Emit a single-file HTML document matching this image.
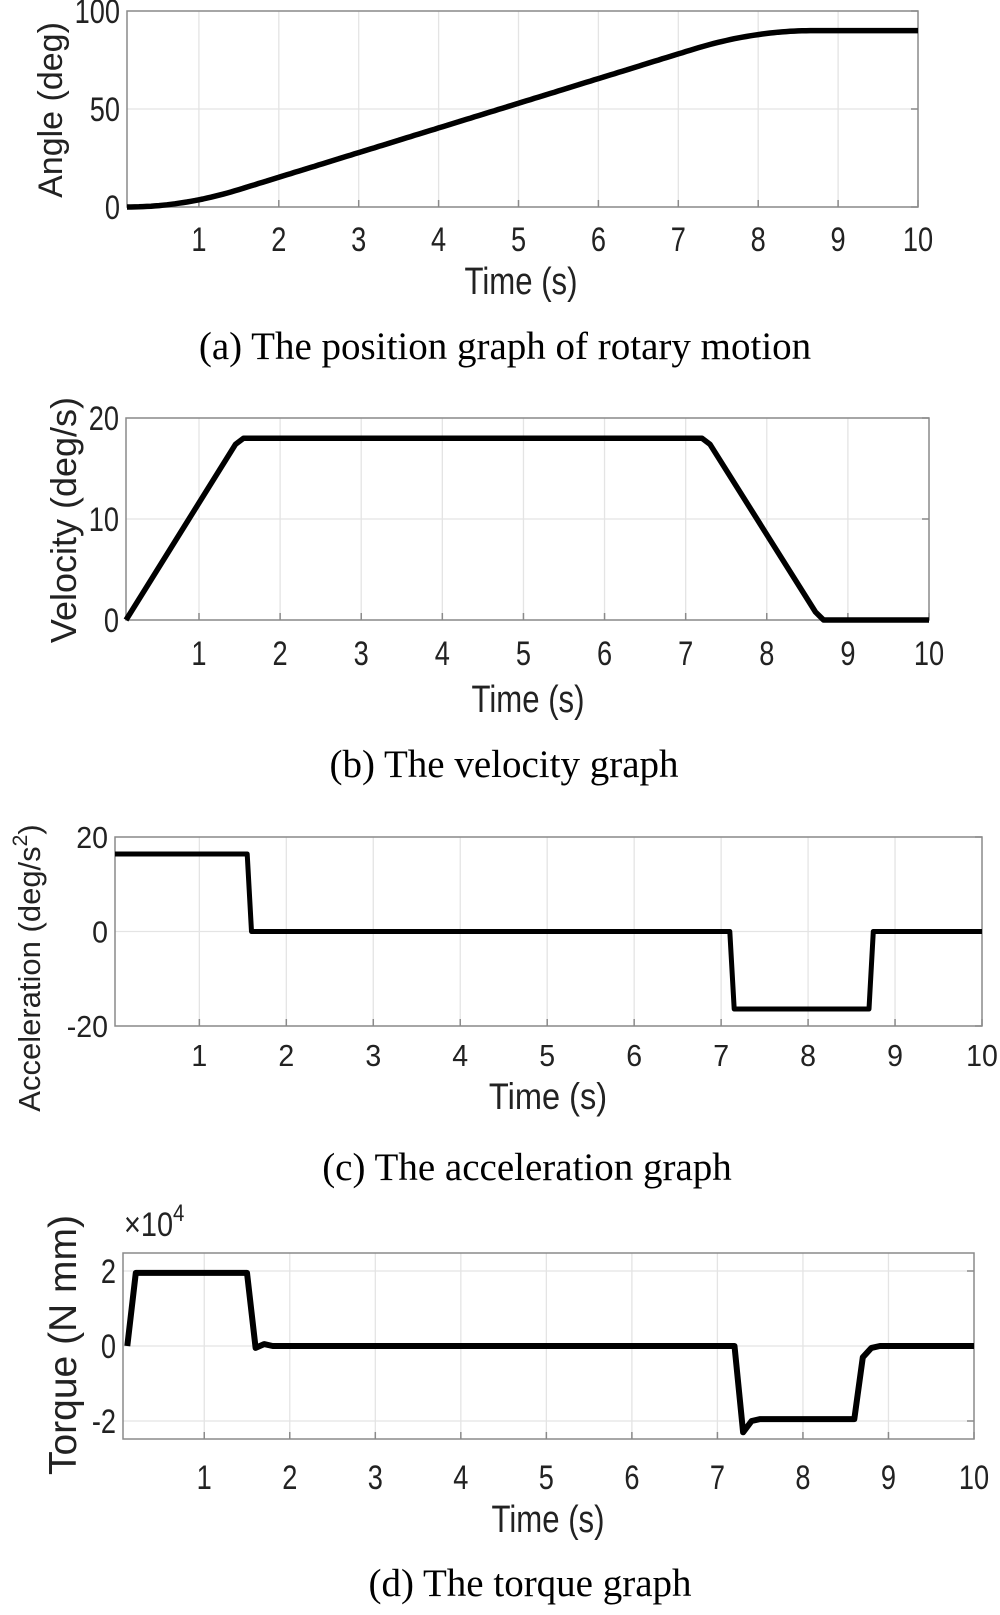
<!DOCTYPE html>
<html><head><meta charset="utf-8"><style>
html,body{margin:0;padding:0;background:#fff;}
svg{display:block;}
</style></head><body>
<svg id="s" xmlns="http://www.w3.org/2000/svg" width="1000" height="1615" viewBox="0 0 1000 1615">
<rect width="1000" height="1615" fill="#fff"/>
<g font-family="Liberation Serif, serif" font-size="39" fill="#000" text-anchor="middle">
<text x="505" y="359">(a) The position graph of rotary motion</text>
<text x="504" y="777">(b) The velocity graph</text>
<text x="527" y="1180">(c) The acceleration graph</text>
<text x="530" y="1596">(d) The torque graph</text>
</g>
</svg>
<script>
var s=document.getElementById('s');var NS='http://www.w3.org/2000/svg';
function el(n,a,t){var e=document.createElementNS(NS,n);for(var k in a)e.setAttribute(k,a[k]);if(t!==undefined)e.textContent=t;s.appendChild(e);return e;}
function plot(o){
 var X=function(t){return o.l+(t-o.xmin)/(10-o.xmin)*(o.r-o.l);};
 var Y=function(v){return o.b-(v-o.ymin)/(o.ymax-o.ymin)*(o.b-o.t);};
 for(var i=1;i<10;i++){el('line',{x1:X(i),x2:X(i),y1:o.t,y2:o.b,stroke:'#e4e4e4','stroke-width':1.3});}
 o.yt.forEach(function(v){el('line',{x1:o.l,x2:o.r,y1:Y(v),y2:Y(v),stroke:'#e4e4e4','stroke-width':1.3});});
 el('rect',{x:o.l,y:o.t,width:o.r-o.l,height:o.b-o.t,fill:'none',stroke:'#8a8a8a','stroke-width':1.5});
 for(var i=1;i<=10;i++){el('line',{x1:X(i),x2:X(i),y1:o.b,y2:o.b-7,stroke:'#8a8a8a','stroke-width':1.5});
  el('text',{transform:'translate('+X(i)+','+o.xl+') scale('+o.sx+',1)','font-family':'Liberation Sans, sans-serif','font-size':o.fs,'text-anchor':'middle',fill:'#222'},String(i));}
 o.yt.forEach(function(v){el('line',{x1:o.r,x2:o.r-7,y1:Y(v),y2:Y(v),stroke:'#8a8a8a','stroke-width':1.5});
  el('text',{transform:'translate('+(o.l-7)+','+(Y(v)+o.fs*0.36)+') scale('+o.sx+',1)','font-family':'Liberation Sans, sans-serif','font-size':o.fs,'text-anchor':'end',fill:'#222'},String(v));});
 el('text',{transform:'translate('+o.tx+','+o.ty+') scale('+o.tsx+',1)','font-family':'Liberation Sans, sans-serif','font-size':o.tfs,'text-anchor':'middle',fill:'#222'},'Time (s)');
 var d='';o.data.forEach(function(p,i){d+=(i?'L':'M')+X(p[0]).toFixed(1)+' '+Y(p[1]).toFixed(1);});
 el('path',{d:d,fill:'none',stroke:'#000','stroke-width':o.lw,'stroke-linejoin':'round'});
 var yl=el('text',{transform:'translate('+o.yx+','+o.yy+') rotate(-90)','font-family':'Liberation Sans, sans-serif','font-size':o.yfs,'text-anchor':'middle',fill:'#222'});
 yl.innerHTML=o.ylab;
}
var pos=[],p=0,dt=0.01;
function vel(t){if(t<0.1)return 0;if(t<1.5)return (t-0.1)/1.4;if(t<7.2)return 1;if(t<8.7)return 1-(t-7.2)/1.5;return 0;}
var raw=[];for(var t=0.1;t<=10.001;t+=dt){p+=vel(t)*dt;raw.push([t,p]);}
var P=raw[raw.length-1][1];raw.forEach(function(q,i){if(i%5==0||i==raw.length-1)pos.push([q[0],q[1]/P*90]);});
plot({l:127,r:918,t:11,b:207,xmin:0.1,ymin:0,ymax:100,yt:[0,50,100],fs:34,sx:0.8,xl:251,tx:521,ty:294,tfs:38,tsx:0.82,
 data:pos,lw:5.5,yx:62,yy:110,yfs:34,ylab:'Angle (deg)'});
plot({l:126,r:929,t:418,b:620,xmin:0.1,ymin:0,ymax:20,yt:[0,10,20],fs:34,sx:0.8,xl:665,tx:528,ty:712,tfs:38,tsx:0.82,
 data:[[0.1,0],[1.45,17.4],[1.55,18],[7.2,18],[7.3,17.4],[8.6,0.8],[8.7,0],[10,0]],lw:5.5,yx:76,yy:520,yfs:36,ylab:'Velocity (deg/s)'});
plot({l:115,r:982,t:837,b:1026,xmin:0.03,ymin:-20,ymax:20,yt:[-20,0,20],fs:31,sx:0.92,xl:1066,tx:548,ty:1109,tfs:37,tsx:0.88,
 data:[[0.03,16.4],[1.55,16.4],[1.6,0],[7.1,0],[7.15,-16.4],[8.7,-16.4],[8.75,0],[10,0]],lw:5,yx:40,yy:968,yfs:31,ylab:'Acceleration (deg/s<tspan dy="-13" font-size="21">2</tspan><tspan dy="13">)</tspan>'});
plot({l:123,r:974,t:1253,b:1439,xmin:0.05,ymin:-2.48,ymax:2.48,yt:[-2,0,2],fs:34,sx:0.8,xl:1489,tx:548,ty:1532,tfs:38,tsx:0.82,
 data:[[0.1,0],[0.2,1.95],[1.5,1.95],[1.6,-0.05],[1.7,0.05],[1.8,0],[7.2,0],[7.3,-2.3],[7.4,-2.0],[7.5,-1.95],[8.6,-1.95],[8.7,-0.3],[8.8,-0.05],[8.9,0],[10,0]],lw:6,yx:76,yy:1345,yfs:39,ylab:'Torque (N mm)'});
var e=el('text',{transform:'translate(124,1236) scale(0.85,1)','font-family':'Liberation Sans, sans-serif','font-size':34,fill:'#222'});
e.innerHTML='×10<tspan dy="-15" font-size="24">4</tspan>';
</script>
</body></html>
